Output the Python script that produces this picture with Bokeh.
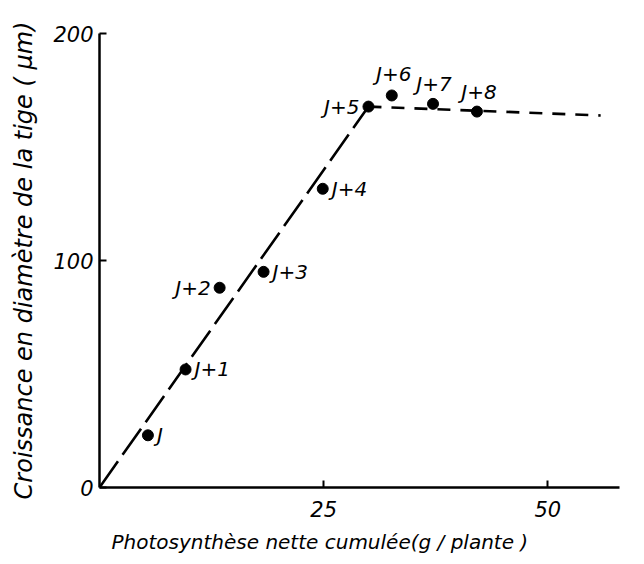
from bokeh.plotting import figure
from bokeh.models import ColumnDataSource, FixedTicker, Range1d, Title
from bokeh.core.properties import value
from bokeh.embed import file_html
from bokeh.resources import INLINE

# data
labels = ["J", "J+1", "J+2", "J+3", "J+4", "J+5", "J+6", "J+7", "J+8"]
photo = [5.4, 9.6, 13.4, 18.3, 24.9, 30.0, 32.6, 37.2, 42.1]
growth = [23, 52, 88, 95, 131.6, 167.8, 172.7, 169, 165.6]
fit_x = [0, 30.0]
fit_y = [0, 167.8]
plateau_x = [30.0, 55.9]
plateau_y = [167.8, 163.9]
x_ticks = [25, 50]
y_ticks = [0, 100, 200]
x_title = "Photosynthèse nette cumulée(g / plante )"
y_title = "Croissance en diamètre de la tige ( µm)"

# label placement styles (pixels)
lab_dx = [9, 9, -9, 9, 9, -9, 2, 1, 2]
lab_dy = [0, 0, 0, 0, 0, 0, -9, -8, -8]
lab_align = ["left", "left", "right", "left", "left", "right", "center", "center", "center"]
lab_base = ["middle", "middle", "middle", "middle", "middle", "middle", "bottom", "bottom", "bottom"]

FONT = "DejaVu Sans"

p = figure(width=644, height=564, output_backend="svg", toolbar_location=None,
           x_range=Range1d(0, 58), y_range=Range1d(0, 200),
           min_border_left=99, min_border_right=25, min_border_top=33, min_border_bottom=77)
p.frame_width = 520
p.frame_height = 454
p.outline_line_color = None
p.xgrid.visible = False
p.ygrid.visible = False
p.background_fill_color = "white"
p.border_fill_color = "white"

p.line(fit_x, fit_y, line_color="black", line_width=2.6, line_dash="32 8")
p.line(plateau_x, plateau_y, line_color="black", line_width=2.6, line_dash="13 10")

src = ColumnDataSource(dict(x=photo, y=growth, t=labels, dx=lab_dx, dy=lab_dy,
                            al=lab_align, bl=lab_base))
p.scatter("x", "y", source=src, size=11, color="black")
p.text("x", "y", text="t", source=src, x_offset="dx", y_offset="dy",
       text_align="al", text_baseline="bl", text_font=value(FONT),
       text_font_style="italic", text_font_size="20px", text_color="black")

for ax in (p.xaxis[0], p.yaxis[0]):
    ax.axis_line_width = 2.5
    ax.axis_line_color = "black"
    ax.major_tick_in = 7
    ax.major_tick_out = 0
    ax.major_tick_line_width = 2
    ax.minor_tick_line_color = None
    ax.major_label_text_font = FONT
    ax.major_label_text_font_style = "italic"
    ax.major_label_text_font_size = "21px"
    ax.major_label_text_color = "black"
    ax.axis_label_text_font = FONT
    ax.axis_label_text_font_style = "italic"
    ax.axis_label_text_color = "black"

p.xaxis.ticker = FixedTicker(ticks=x_ticks)
p.yaxis.ticker = FixedTicker(ticks=y_ticks)
p.xaxis.major_label_standoff = 13
p.yaxis.major_label_standoff = 6
p.yaxis.axis_label = y_title
p.yaxis.axis_label_text_font_size = "24px"
p.yaxis.axis_label_standoff = 12

# x-axis title, left-aligned near the y axis like in the reference
p.add_layout(Title(text=x_title, align="left", offset=12, standoff=16,
                   text_font=FONT, text_font_style="italic",
                   text_font_size="20px", text_color="black"), "below")

open("out.html", "w").write(file_html(p, INLINE))
